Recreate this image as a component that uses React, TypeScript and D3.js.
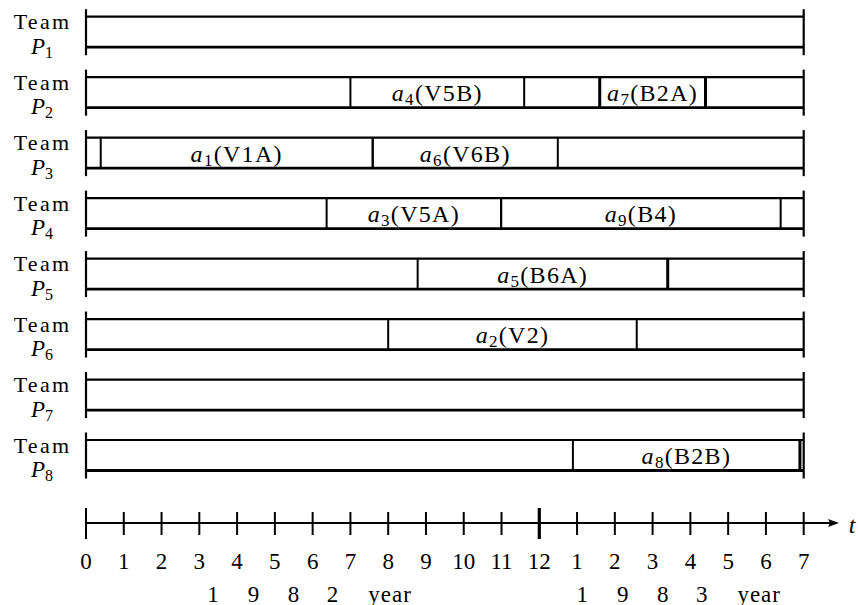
import React from 'react';
import * as d3 from 'd3';

// team subscripts, top to bottom
const teams = ['1', '2', '3', '4', '5', '6', '7', '8'];

// assignments: team row, task index, code, start / end in months from Jan 1982
const tasks = [
  { team: '2', id: '4', code: 'V5B', start: 7.0, end: 11.6 },
  { team: '2', id: '7', code: 'B2A', start: 13.6, end: 16.4 },
  { team: '3', id: '1', code: 'V1A', start: 0.39, end: 7.59 },
  { team: '3', id: '6', code: 'V6B', start: 7.59, end: 12.49 },
  { team: '4', id: '3', code: 'V5A', start: 6.37, end: 10.99 },
  { team: '4', id: '9', code: 'B4', start: 10.99, end: 18.39 },
  { team: '5', id: '5', code: 'B6A', start: 8.78, end: 15.4 },
  { team: '6', id: '2', code: 'V2', start: 8.0, end: 14.58 },
  { team: '8', id: '8', code: 'B2B', start: 12.89, end: 18.9 },
];

// month tick labels along t
const tickLabels = ['0', '1', '2', '3', '4', '5', '6', '7', '8', '9', '10', '11', '12',
  '1', '2', '3', '4', '5', '6', '7'];

// year captions under the month labels (centre in months)
const years = [
  { digits: ['1', '9', '8', '2'], center: 5.92 },
  { digits: ['1', '9', '8', '3'], center: 15.69 },
];

const FONT = 'Liberation Serif, DejaVu Serif, Times New Roman, serif';

const App = () => {
  const width = 858;
  const height = 605;

  const x = d3.scaleLinear().domain([0, 19]).range([86, 803.7]);
  const rowTop = d3.scalePoint<string>().domain(teams).range([16.7, 440]);
  const barH = 30.5;
  const axisY = 523;

  const heavyLeft = new Set(['7']);
  const heavyRight = new Set(['7', '5', '8']);

  const months = d3.range(0, 20);
  const txt = { fontFamily: FONT, fontSize: 23 };
  const label = { fontFamily: FONT, fontSize: 24, letterSpacing: 1.3 };

  return (
    <svg
      width={width}
      height={height}
      style={{ position: 'absolute', left: 0, top: 0, background: '#fff', fontFamily: FONT }}
    >
      {teams.map((t) => {
        const y0 = rowTop(t) as number;
        const y1 = y0 + barH;
        return (
          <g key={t}>
            <text x={42.5} y={y0 + 12.5} style={{ fontFamily: FONT, fontSize: 22, letterSpacing: 2.3 }}
              textAnchor="middle">Team</text>
            <text x={42} y={y0 + 37} style={{ fontFamily: FONT, fontSize: 22 }} textAnchor="middle">
              <tspan fontStyle="italic" style={{ fontSize: 23 }}>P</tspan>
              <tspan style={{ fontSize: 16 }} dy={4}>{t}</tspan>
            </text>
            <line x1={x(0)} x2={x(19)} y1={y0} y2={y0} stroke="#000" strokeWidth={2.2} />
            <line x1={x(0)} x2={x(19)} y1={y1} y2={y1} stroke="#000" strokeWidth={2.8} />
            <line x1={x(0)} x2={x(0)} y1={y0 - 7.5} y2={y1 + 8} stroke="#000" strokeWidth={2.2} />
            <line x1={x(19)} x2={x(19)} y1={y0 - 7.5} y2={y1 + 8} stroke="#000" strokeWidth={2.2} />
          </g>
        );
      })}

      {tasks.map((d) => {
        const y0 = rowTop(d.team) as number;
        const y1 = y0 + barH;
        const cx = (x(d.start) + x(d.end)) / 2;
        return (
          <g key={d.id}>
            <line x1={x(d.start)} x2={x(d.start)} y1={y0} y2={y1} stroke="#000"
              strokeWidth={heavyLeft.has(d.id) ? 3 : 2} />
            <line x1={x(d.end)} x2={x(d.end)} y1={y0} y2={y1} stroke="#000"
              strokeWidth={heavyRight.has(d.id) ? 3 : 2} />
            <text x={cx} y={y0 + 24} style={label} textAnchor="middle">
              <tspan fontStyle="italic">a</tspan>
              <tspan style={{ fontSize: 17 }} dy={4}>{d.id}</tspan>
              <tspan dy={-4}>({d.code})</tspan>
            </text>
          </g>
        );
      })}

      {/* time axis */}
      <line x1={x(0)} x2={832} y1={axisY} y2={axisY} stroke="#000" strokeWidth={2} />
      <path d={`M839,${axisY} L828,${axisY - 4} L830,${axisY} L828,${axisY + 4} Z`} fill="#000" />
      <text x={852} y={533} style={{ ...txt, fontSize: 24 }} fontStyle="italic" textAnchor="middle">t</text>
      {months.map((m) => {
        const tall = m === 0 || m === 12;
        return (
          <line key={m} x1={x(m)} x2={x(m)}
            y1={tall ? axisY - 15 : axisY - 11} y2={tall ? axisY + 16 : axisY + 12}
            stroke="#000" strokeWidth={m === 12 ? 3.2 : 2} />
        );
      })}
      {tickLabels.map((l, i) => (
        <text key={i} x={x(i)} y={569} style={txt} textAnchor="middle">{l}</text>
      ))}
      {years.map((yr) => {
        const c = x(yr.center);
        const offs = [-96.5, -56, -16, 23];
        return (
          <g key={yr.digits.join('')}>
            {yr.digits.map((dg, i) => (
              <text key={i} x={c + offs[i]} y={601.5} style={txt} textAnchor="middle">{dg}</text>
            ))}
            <text x={c + 80.5} y={601.5} style={{ ...txt, letterSpacing: 1 }} textAnchor="middle">year</text>
          </g>
        );
      })}
    </svg>
  );
};

export default App;
